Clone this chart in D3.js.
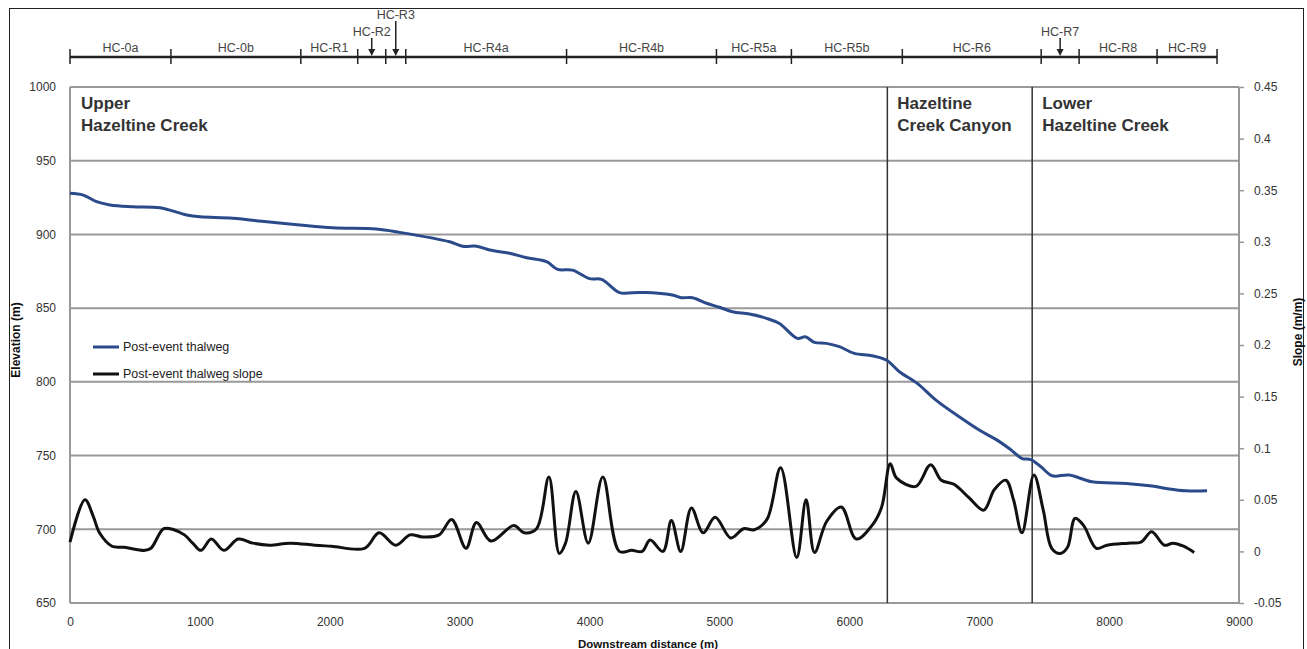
<!DOCTYPE html>
<html><head><meta charset="utf-8">
<script src="https://cdn.jsdelivr.net/npm/d3@7"></script>
<style>body{margin:0;background:#fff} svg{display:block}</style>
</head><body><svg id="chart" width="1307" height="649"></svg>
<script>
// ---------- data ----------
const distTicks = [0,1000,2000,3000,4000,5000,6000,7000,8000,9000];
const elevTicks = [650,700,750,800,850,900,950,1000];
const slopeTicks = [-0.05,0,0.05,0.1,0.15,0.2,0.25,0.3,0.35,0.4,0.45];

const elevDist = [0,102,205,308,485,692,898,1000,1254,1515,1769,2023,2359,2538,2923,3023,3131,3231,3385,3515,3669,3754,3869,4000,4092,4231,4331,4485,4638,4708,4792,4900,5000,5100,5231,5362,5462,5600,5662,5731,5823,5923,6038,6177,6285,6385,6523,6667,6846,7000,7128,7231,7331,7397,7475,7562,7692,7869,8131,8331,8438,8592,8754];
const elevation = [927.9,926.7,922.2,920,918.8,918.1,913.2,912,911,908.6,906.4,904.5,903.7,901.4,895,892,892,889.4,887.2,884.2,881.5,876.3,875.8,870,869.5,860.5,860.5,860.5,858.9,857.1,857.1,853.3,850.6,847.6,846,843.1,839.6,829.5,830.6,826.8,826.1,823.9,819.3,817.7,814.8,806.9,799,787.6,776.3,767.3,761,754.8,748,747.3,742.4,736.3,736.8,732.2,731.1,729.3,727.7,726.1,726.1];

const slopeDist = [0,115,179,227,323,418,577,623,722,800,881,945,1008,1088,1184,1295,1407,1535,1694,1885,2013,2268,2380,2508,2618,2715,2842,2938,3049,3129,3241,3416,3496,3592,3687,3767,3815,3895,3990,4102,4229,4325,4405,4466,4565,4630,4702,4784,4875,4967,5088,5186,5268,5366,5471,5595,5667,5732,5825,5938,6053,6185,6249,6315,6364,6512,6626,6708,6806,6921,7035,7117,7205,7264,7329,7421,7493,7558,7625,7680,7738,7804,7902,7984,8148,8245,8328,8425,8491,8573,8655];
const slope = [0.009,0.050,0.034,0.018,0.005,0.004,0.001,0.003,0.022,0.021,0.016,0.008,0.001,0.012,0.001,0.012,0.008,0.006,0.008,0.006,0.005,0.003,0.018,0.006,0.016,0.014,0.016,0.031,0.003,0.028,0.010,0.025,0.018,0.022,0.072,-0.002,0.008,0.058,0.008,0.072,0.000,0.001,0.000,0.011,0.000,0.030,0.000,0.042,0.018,0.033,0.013,0.022,0.021,0.031,0.081,-0.006,0.050,-0.001,0.029,0.043,0.012,0.027,0.043,0.085,0.071,0.063,0.084,0.069,0.065,0.052,0.040,0.060,0.069,0.050,0.018,0.074,0.040,0.003,-0.002,0.004,0.032,0.025,0.003,0.006,0.008,0.009,0.019,0.006,0.008,0.005,-0.001];

const reachNames = ["HC-0a","HC-0b","HC-R1","HC-R2","HC-R3","HC-R4a","HC-R4b","HC-R5a","HC-R5b","HC-R6","HC-R7","HC-R8","HC-R9"];
const reachBounds = [0,777,1777,2215,2431,2585,3823,4977,5554,6408,7477,7769,8369,8831];
const arrowReaches = ["HC-R2","HC-R3","HC-R7"];

const regionNames = [["Upper","Hazeltine Creek"],["Hazeltine","Creek Canyon"],["Lower","Hazeltine Creek"]];
const regionStarts = [0,6285,7400];
const dividers = [6285,7400];

const seriesNames = ["Post-event thalweg","Post-event thalweg slope"];
const seriesColors = ["#2b4a8a","#111111"];

// ---------- chart ----------
const svg = d3.select("#chart");
const L = 70, R = 1239, T = 87, B = 603;
const x = d3.scaleLinear().domain([0,9000]).range([L,R]);
const yL = d3.scaleLinear().domain([650,1000]).range([B,T]);
const yR = d3.scaleLinear().domain([-0.05,0.45]).range([B,T]);
const FONT = "Liberation Sans, Arial, sans-serif";

// outer frame
svg.append("rect").attr("x",9.5).attr("y",8.5).attr("width",1294).attr("height",660)
  .attr("fill","none").attr("stroke","#222").attr("stroke-width",1);

// gridlines
svg.append("g").selectAll("line").data(elevTicks).join("line")
  .attr("x1",L).attr("x2",R).attr("y1",d=>yL(d)).attr("y2",d=>yL(d))
  .attr("stroke","#999").attr("stroke-width",2);
[L,R].forEach(px=>svg.append("line").attr("x1",px).attr("x2",px).attr("y1",T).attr("y2",B)
  .attr("stroke","#999").attr("stroke-width",2));

// dividers
svg.append("g").selectAll("line").data(dividers).join("line")
  .attr("x1",d=>x(d)+1).attr("x2",d=>x(d)+1).attr("y1",T).attr("y2",B)
  .attr("stroke","#333").attr("stroke-width",1.5);

// axes
const gl = svg.append("g").attr("transform",`translate(${L},0)`)
  .call(d3.axisLeft(yL).tickValues(elevTicks).tickSize(0).tickPadding(14).tickFormat(d=>String(d)));
const gr = svg.append("g").attr("transform",`translate(${R},0)`)
  .call(d3.axisRight(yR).tickValues(slopeTicks).tickSize(5).tickPadding(10).tickFormat(d=>String(d)));
const gb = svg.append("g").attr("transform",`translate(0,${B})`)
  .call(d3.axisBottom(x).tickValues(distTicks).tickSize(0).tickPadding(14).tickFormat(d=>String(d)));
[gl,gr,gb].forEach(g=>{
  g.select(".domain").remove();
  g.selectAll("text").attr("font-family",FONT).attr("font-size",12).attr("fill","#333");
  g.selectAll("line").attr("stroke","#999").attr("stroke-width",1.5);
});

// axis titles
svg.append("text").attr("transform","translate(20,340) rotate(-90)").attr("text-anchor","middle")
  .attr("font-family",FONT).attr("font-size",12).attr("font-weight","bold").attr("fill","#111").text("Elevation (m)");
svg.append("text").attr("transform","translate(1302,332) rotate(-90)").attr("text-anchor","middle")
  .attr("font-family",FONT).attr("font-size",12).attr("font-weight","bold").attr("fill","#111").text("Slope (m/m)");
svg.append("text").attr("x",648).attr("y",648).attr("text-anchor","middle")
  .attr("font-family",FONT).attr("font-size",11.5).attr("font-weight","bold").attr("fill","#111").text("Downstream distance (m)");

// region labels
regionNames.forEach((lines,i)=>{
  const t = svg.append("text").attr("font-family",FONT).attr("font-size",17).attr("font-weight","bold").attr("fill","#333");
  lines.forEach((ln,j)=>t.append("tspan").attr("x",x(regionStarts[i])+11).attr("y",109+j*22).text(ln));
});

// lines
const curve = d3.curveCatmullRom.alpha(0.5);
const elevLine = d3.line().x((d,i)=>x(elevDist[i])).y(d=>yL(d)).curve(curve);
const slopeLine = d3.line().x((d,i)=>x(slopeDist[i])).y(d=>yR(d)).curve(curve);
svg.append("path").attr("d",slopeLine(slope)).attr("fill","none").attr("stroke",seriesColors[1]).attr("stroke-width",3).attr("stroke-linejoin","round");
svg.append("path").attr("d",elevLine(elevation)).attr("fill","none").attr("stroke",seriesColors[0]).attr("stroke-width",3).attr("stroke-linejoin","round");

// legend
seriesNames.forEach((n,i)=>{
  const yy = 347 + i*27;
  svg.append("line").attr("x1",93).attr("x2",119).attr("y1",yy).attr("y2",yy).attr("stroke",seriesColors[i]).attr("stroke-width",3);
  svg.append("text").attr("x",123).attr("y",yy+4).attr("font-family",FONT).attr("font-size",12.5).attr("fill","#222").text(n);
});

// reach bar
const RB = 57;
svg.append("line").attr("x1",x(reachBounds[0])).attr("x2",x(reachBounds[reachBounds.length-1]))
  .attr("y1",RB).attr("y2",RB).attr("stroke","#222").attr("stroke-width",2.5);
svg.append("g").selectAll("line").data(reachBounds).join("line")
  .attr("x1",d=>x(d)).attr("x2",d=>x(d)).attr("y1",RB-8).attr("y2",RB+7)
  .attr("stroke","#222").attr("stroke-width",1.5);
reachNames.forEach((n,i)=>{
  const cx = x((reachBounds[i]+reachBounds[i+1])/2);
  const ai = arrowReaches.indexOf(n);
  if (ai < 0) {
    svg.append("text").attr("x",cx).attr("y",RB-5).attr("text-anchor","middle")
      .attr("font-family",FONT).attr("font-size",12.5).attr("fill","#444").text(n);
  } else {
    const top = n==="HC-R3" ? 21 : 38;
    svg.append("text").attr("x",cx).attr("y",top-2).attr("text-anchor","middle")
      .attr("font-family",FONT).attr("font-size",12.5).attr("fill","#444").text(n);
    svg.append("line").attr("x1",cx).attr("x2",cx).attr("y1",top).attr("y2",RB-6).attr("stroke","#222").attr("stroke-width",1.5);
    svg.append("path").attr("d",`M${cx-3.5},${RB-8}L${cx+3.5},${RB-8}L${cx},${RB-1}Z`).attr("fill","#222");
  }
});
</script></body></html>
